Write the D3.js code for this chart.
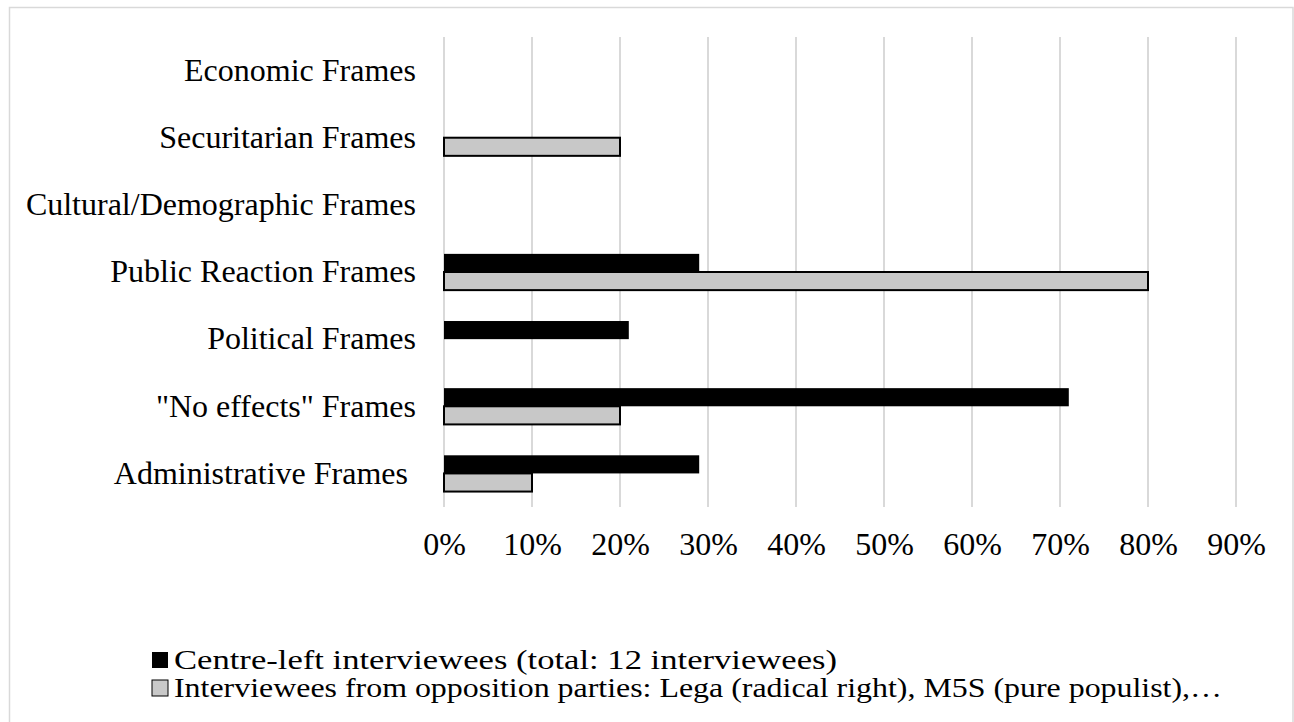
<!DOCTYPE html>
<html>
<head>
<meta charset="utf-8">
<script src="https://cdn.jsdelivr.net/npm/d3@7"></script>
<style>
  html, body { margin: 0; padding: 0; background: #fff; }
  svg { display: block; }
  text { font-family: "Liberation Serif", "Times New Roman", serif; fill: #000; white-space: pre; }
</style>
</head>
<body>
<svg id="chart" width="1294" height="722"></svg>
<script>
const categories = ["Economic Frames", "Securitarian Frames", "Cultural/Demographic Frames", "Public Reaction Frames", "Political Frames", "\"No effects\" Frames", "Administrative Frames "];
const centreLeft = [0, 0, 0, 29, 21, 71, 29];
const opposition = [0, 20, 0, 80, 0, 20, 10];
const seriesNames = ["Centre-left interviewees (total: 12 interviewees)", "Interviewees from opposition parties: Lega (radical right), M5S (pure populist),…"];
const tickValues = [0, 10, 20, 30, 40, 50, 60, 70, 80, 90];

const svg = d3.select("#chart");
const W = 1294, H = 722;

// outer border
svg.append("rect").attr("x", 9.5).attr("y", 7.5).attr("width", W - 10.5).attr("height", H + 20)
  .attr("fill", "#fff").attr("stroke", "#d9d9d9").attr("stroke-width", 1.5);

const x = d3.scaleLinear().domain([0, 90]).range([444, 1236]);
const y = d3.scaleBand().domain(categories).range([37, 507]).paddingInner(0.46).paddingOuter(0.23);
const sub = d3.scaleBand().domain([0, 1]).range([0, y.bandwidth()]);

// gridlines
svg.append("g").selectAll("line").data(tickValues).join("line")
  .attr("x1", d => x(d)).attr("x2", d => x(d))
  .attr("y1", 37).attr("y2", 507)
  .attr("stroke", "#d9d9d9").attr("stroke-width", 2);

// x tick labels via axis
const xAxis = d3.axisBottom(x).tickValues(tickValues).tickFormat(d => d + "%").tickSize(0).tickPadding(0);
const gx = svg.append("g").attr("transform", "translate(0,544)").call(xAxis);
gx.select(".domain").remove();
gx.selectAll("text").attr("font-size", 32).attr("font-family", "Liberation Serif, serif").attr("dy", "0.35em").attr("fill", "#000");

// y labels via axis
const yAxis = d3.axisLeft(y).tickSize(0).tickPadding(0);
const gy = svg.append("g").attr("transform", "translate(416,0)").call(yAxis);
gy.select(".domain").remove();
gy.selectAll("text").attr("font-size", 32).attr("font-family", "Liberation Serif, serif").attr("fill", "#000");

const rows = categories.map((c, i) => ({ c, vals: [centreLeft[i], opposition[i]] }));
const fills = ["#000000", "#c8c8c8"];

const g = svg.append("g");
rows.forEach(r => {
  r.vals.forEach((v, s) => {
    if (v <= 0) return;
    g.append("rect")
      .attr("x", x(0))
      .attr("y", y(r.c) + sub(s))
      .attr("width", x(v) - x(0))
      .attr("height", sub.bandwidth())
      .attr("fill", fills[s])
      .attr("stroke", s === 1 ? "#000" : "none")
      .attr("stroke-width", 2);
  });
});

// legend
const legendWidths = [663, 1048];
const leg = svg.append("g");
seriesNames.forEach((n, i) => {
  const cy = 660 + i * 28;
  leg.append("rect").attr("x", 152).attr("y", cy - 8).attr("width", 16).attr("height", 16)
    .attr("fill", fills[i]).attr("stroke", i === 1 ? "#000" : "none").attr("stroke-width", 1);
  leg.append("text").attr("x", 174).attr("y", cy).attr("dy", "0.35em")
    .attr("font-size", 27)
    .attr("textLength", legendWidths[i]).attr("lengthAdjust", "spacingAndGlyphs")
    .text(n);
});
</script>
</body>
</html>
